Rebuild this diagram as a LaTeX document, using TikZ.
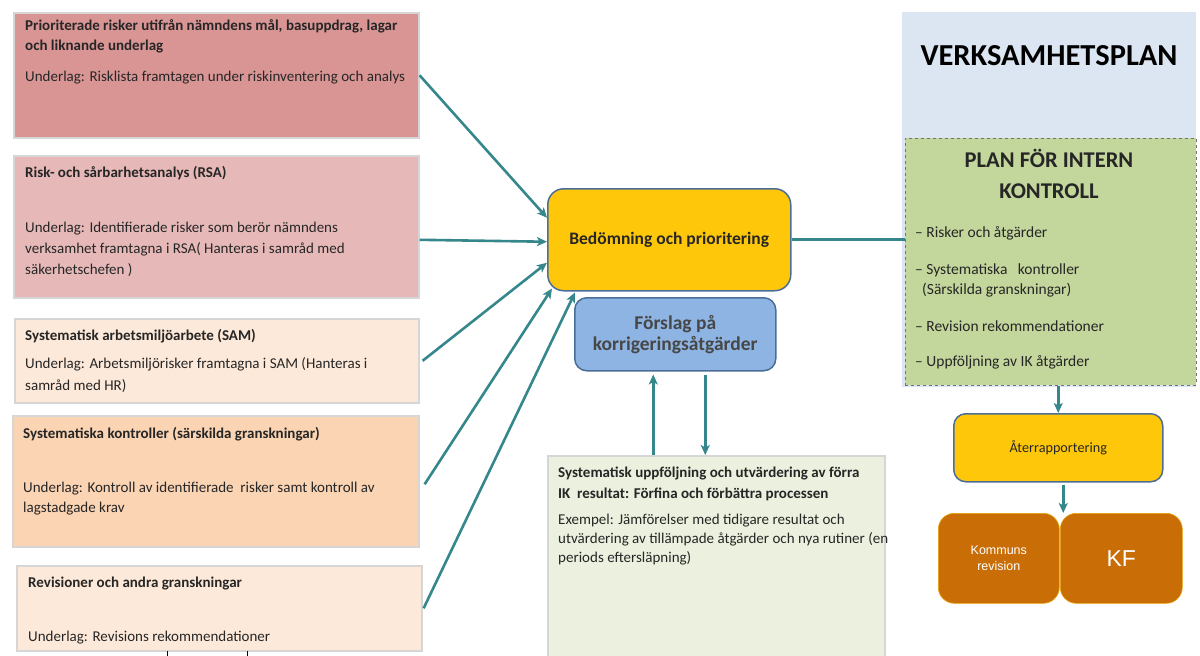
\documentclass[tikz,border=0pt]{standalone}
\usepackage{fontspec}
\setmainfont{Carlito}
\newfontfamily\arialf{Liberation Sans}
\usetikzlibrary{arrows.meta}
\definecolor{teal1}{HTML}{35878C}
\definecolor{cA}{HTML}{D99594}
\definecolor{cB}{HTML}{E6B9B8}
\definecolor{cC}{HTML}{FDE9D9}
\definecolor{cD}{HTML}{FBD4B4}
\definecolor{cYel}{HTML}{FFC709}
\definecolor{cBlueB}{HTML}{4A6E98}
\definecolor{cFors}{HTML}{8EB4E3}
\definecolor{cGreenL}{HTML}{EBF1DE}
\definecolor{cVP}{HTML}{DCE6F2}
\definecolor{cIK}{HTML}{C3D69B}
\definecolor{cOr}{HTML}{C96E07}
\definecolor{cGrayB}{HTML}{D6D6D6}
\definecolor{txt}{HTML}{262626}
\tikzset{
  box/.style={draw=cGrayB, line width=1.6pt, anchor=north west, inner sep=0pt},
  rbox/.style={draw=cBlueB, line width=1.5pt, rounded corners=16pt, anchor=north west, inner sep=0pt},
  obox/.style={draw=cYel!60!cOr, line width=0.6pt, fill=cOr, rounded corners=16pt, anchor=north west, inner sep=0pt},
  tx/.style={anchor=base west, inner sep=0pt, align=left, text=txt, font=\fontsize{15}{21}\selectfont},
  txb/.style={tx, font=\fontsize{15}{20}\selectfont\bfseries},
  arr/.style={draw=teal1, line width=2.6pt, -{Stealth[length=10pt,width=9pt,inset=2.5pt]}},
  conn/.style={draw=teal1, line width=2.6pt}
}
\begin{document}
\begin{tikzpicture}[x=1pt,y=-1pt]
\useasboundingbox (0,0) rectangle (1200,656);
% left boxes
\node[box, fill=cA, minimum width=405pt, minimum height=125pt] (b1) at (13,12) {};
\node[box, fill=cB, minimum width=405pt, minimum height=142pt] (b2) at (13,155) {};
\node[box, fill=cC, minimum width=404pt, minimum height=84pt] (b3) at (14,318) {};
\node[box, fill=cD, minimum width=406pt, minimum height=131pt] (b4) at (12,415) {};
\node[box, fill=cC, minimum width=405pt, minimum height=85pt] (b5) at (16,565) {};
% multi-line text nodes are placed at the baseline of their last line
\node[txb] (t1h) at (25,50.5) {Prioriterade risker utifrån nämndens mål, basuppdrag, lagar\\och liknande underlag};
\node[tx] (t1u) at (25,81.5) {Underlag: Risklista framtagen under riskinventering och analys};
\node[txb] (t2h) at (25,177.5) {Risk- och sårbarhetsanalys (RSA)};
\node[tx] (t2u) at (25,274.5) {Underlag: Identifierade risker som berör nämndens\\verksamhet framtagna i RSA( Hanteras i samråd med\\säkerhetschefen )};
\node[txb] (t3h) at (25,340.5) {Systematisk arbetsmiljöarbete (SAM)};
\node[tx, font=\fontsize{15}{22}\selectfont] (t3u) at (25,390.5) {Underlag: Arbetsmiljörisker framtagna i SAM (Hanteras i\\samråd med HR)};
\node[txb] (t4h) at (23,438.5) {Systematiska kontroller (särskilda granskningar)};
\node[tx, font=\fontsize{15}{20}\selectfont] (t4u) at (23,512.5) {Underlag: Kontroll av identifierade\ \ risker samt kontroll av\\lagstadgade krav};
\node[txb] (t5h) at (28,587.5) {Revisioner och andra granskningar};
\node[tx] (t5u) at (28,641.5) {Underlag: Revisions rekommendationer};
% small ticks under last box
\coordinate (k1) at (167,651);
\coordinate (k2) at (247,651);
\draw[line width=0.8pt] (k1) -- ++(0,5);
\draw[line width=0.8pt] (k2) -- ++(0,5);
% centre
\node[rbox, fill=cYel, minimum width=243pt, minimum height=102pt] (bed) at (547,188) {};
\node[font=\fontsize{17.5}{20}\selectfont\bfseries, text=txt] (bedt) at (bed.center) {Bedömning och prioritering};
\node[rbox, fill=cFors, rounded corners=12pt, minimum width=201pt, minimum height=73pt] (fors) at (574,297) {};
\node[font=\fontsize{19.5}{21}\selectfont\bfseries, text=black!72, align=center] (forst) at (fors.center) {Förslag på\\korrigeringsåtgärder};
\node[box, fill=cGreenL, minimum width=337pt, minimum height=215pt] (gr) at (547,455) {};
\node[txb, font=\fontsize{15}{21}\selectfont\bfseries] (grh) at (558,498.5) {Systematisk uppföljning och utvärdering av förra\\IK\ \ resultat: Förfina och förbättra processen};
\node[tx, font=\fontsize{15}{19}\selectfont] (gru) at (558,562.5) {Exempel: Jämförelser med tidigare resultat och\\utvärdering av tillämpade åtgärder och nya rutiner (en\\periods eftersläpning)};
% right
\node[anchor=north west, fill=cVP, minimum width=294pt, minimum height=375pt, inner sep=0pt] (vp) at (902,12) {};
\node[font=\fontsize{30.5}{32}\selectfont\bfseries, text=black] (vpt) at (1049,56) {VERKSAMHETSPLAN};
\node[anchor=north west, fill=cIK, draw=black!55, dashed, line width=0.7pt, minimum width=291pt, minimum height=247pt, inner sep=0pt] (ik) at (905,138) {};
\node[font=\fontsize{22.5}{31}\selectfont\bfseries, text=txt, align=center, anchor=base] (ikt) at (1049,198.5) {PLAN FÖR INTERN\\KONTROLL};
\node[tx, font=\fontsize{15.5}{20}\selectfont] (l1) at (915,237.5) {– Risker och åtgärder};
\node[tx, font=\fontsize{15.5}{20}\selectfont] (l2) at (915,294.5) {– Systematiska\ \ \ kontroller\\\ \ (Särskilda granskningar)};
\node[tx, font=\fontsize{15.5}{20}\selectfont] (l3) at (915,331.5) {– Revision rekommendationer};
\node[tx, font=\fontsize{15.5}{20}\selectfont] (l4) at (915,366.5) {– Uppföljning av IK åtgärder};
\node[rbox, fill=cYel, rounded corners=12pt, minimum width=209pt, minimum height=68pt] (ater) at (953,413) {};
\node[font=\fontsize{14.2}{16}\selectfont, text=txt] (atert) at (ater.center) {Återrapportering};
\node[obox, minimum width=121pt, minimum height=90pt] (kom) at (938,513) {};
\node[obox, minimum width=122pt, minimum height=90pt] (kf) at (1060,513) {};
\node[font=\arialf\fontsize{12.5}{16}\selectfont, text=white, align=center] (komt) at (kom.center) {Kommuns\\revision};
\node[font=\arialf\fontsize{23}{26}\selectfont, text=white] (kft) at (kf.center) {KF};
% connectors
\draw[arr] (b1.east) -- ([yshift=22pt]bed.west);
\draw[arr] ([yshift=-13pt]b2.east) -- ([yshift=-2pt]bed.west);
\draw[arr] ([xshift=3pt]b3.east) -- ([yshift=-23pt]bed.west);
\draw[arr] ([xshift=5pt,yshift=-3pt]b4.east) -- ([xshift=5pt,yshift=3pt]bed.south west);
\draw[arr] ([xshift=1pt]b5.east) -- ([xshift=28pt,yshift=-1pt]bed.south west);
\draw[arr] ([xshift=-22pt]fors.south |- gr.north) -- ([xshift=-22pt,yshift=-3pt]fors.south);
\draw[arr] ([xshift=30pt,yshift=-3pt]fors.south) -- ([xshift=30pt]fors.south |- gr.north);
\draw[conn] (bed.east) -- (bed.east -| ik.west);
\draw[arr] (ater.north |- ik.south) -- (ater.north);
\draw[arr] ([xshift=5pt,yshift=-2pt]ater.south) -- ([xshift=5pt]ater.south |- kom.north);
\end{tikzpicture}
\end{document}
